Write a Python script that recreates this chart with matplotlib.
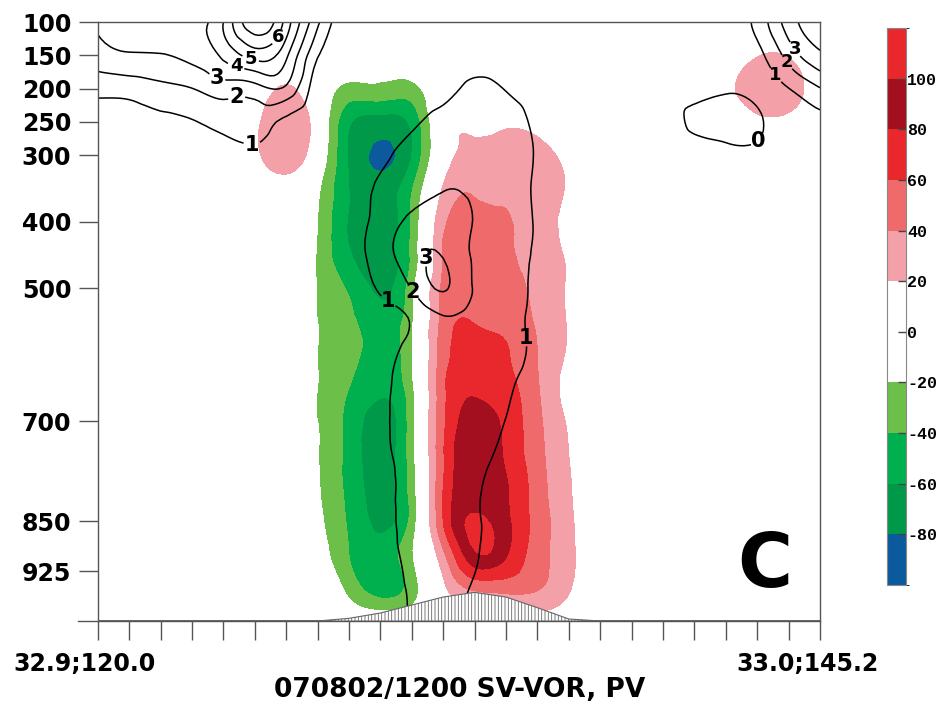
import numpy as np
import matplotlib
matplotlib.use("Agg")
import matplotlib.pyplot as plt
import matplotlib.tri as mtri
from matplotlib.colors import ListedColormap, BoundaryNorm
from matplotlib.cm import ScalarMappable
from matplotlib.transforms import ScaledTranslation

plt.rcParams['font.family'] = 'DejaVu Sans'
plt.rcParams['hatch.linewidth'] = 0.6

# cross-section grid: 24 points along ~33N, pressure levels every 50 hPa
lon = np.linspace(120.0, 145.2, 24)
lev = np.arange(100, 1001, 50)

# SV-VOR (shaded), rows = lev, cols = lon points
svvor = [
    [0, 0, 0, 0, 0, 0, 3, 0, 0, 0, 0, 0, 0, 0, 0, 0, 0, 0, 0, 0, 3, 8, 8, 3],
    [0, 0, 0, 0, 0, 2, 5, 0, -5, -10, -5, 0, 0, 0, 0, 0, 0, 0, 0, 2, 8, 19, 19, 6],
    [0, 0, 0, 0, 0, 8, 22, 0, -26, -25, -27, 0, 3, 5, 3, 0, 0, 0, 0, 5, 15, 30, 28, 10],
    [0, 0, 0, 0, 0, 15, 35, 5, -57, -69, -55, 5, 15, 17, 12, 3, 0, 0, 0, 2, 6, 15, 15, 5],
    [0, 0, 0, 0, 0, 15, 33, 0, -62, -83, -60, 5, 28, 33, 30, 12, 0, 0, 0, 0, 0, 3, 3, 0],
    [0, 0, 0, 0, 0, 5, 10, -16, -60, -72, -42, 22, 38, 38, 33, 17, 0, 0, 0, 0, 0, 0, 0, 0],
    [0, 0, 0, 0, 0, 0, 2, -20, -62, -70, -38, 35, 48, 42, 28, 15, 0, 0, 0, 0, 0, 0, 0, 0],
    [0, 0, 0, 0, 0, 0, 0, -22, -58, -66, -36, 42, 55, 44, 30, 17, 0, 0, 0, 0, 0, 0, 0, 0],
    [0, 0, 0, 0, 0, 0, 0, -21, -43, -64, -27, 45, 54, 50, 33, 18, 0, 0, 0, 0, 0, 0, 0, 0],
    [0, 0, 0, 0, 0, 0, 0, -20, -36, -50, -23, 47, 59, 55, 37, 18, 0, 0, 0, 0, 0, 0, 0, 0],
    [0, 0, 0, 0, 0, 0, 0, -20, -35, -48, -22, 50, 70, 62, 40, 17, 0, 0, 0, 0, 0, 0, 0, 0],
    [0, 0, 0, 0, 0, 0, 0, -20, -40, -55, -25, 55, 78, 68, 42, 12, 0, 0, 0, 0, 0, 0, 0, 0],
    [0, 0, 0, 0, 0, 0, 0, -20, -46, -70, -28, 56, 88, 75, 45, 17, 0, 0, 0, 0, 0, 0, 0, 0],
    [0, 0, 0, 0, 0, 0, 0, -19, -47, -70, -28, 58, 95, 77, 47, 20, 3, 0, 0, 0, 0, 0, 0, 0],
    [0, 0, 0, 0, 0, 0, 0, -18, -46, -68, -30, 60, 95, 82, 50, 22, 5, 0, 0, 0, 0, 0, 0, 0],
    [0, 0, 0, 0, 0, 0, 0, -15, -43, -65, -32, 60, 104, 85, 52, 24, 5, 0, 0, 0, 0, 0, 0, 0],
    [0, 0, 0, 0, 0, 0, 0, -10, -40, -55, -22, 35, 96, 82, 50, 25, 5, 0, 0, 0, 0, 0, 0, 0],
    [0, 0, 0, 0, 0, 0, 0, -3, -27, -50, -30, 15, 45, 48, 42, 22, 5, 0, 0, 0, 0, 0, 0, 0],
    [0, 0, 0, 0, 0, 0, 0, 0, 0, 0, 0, 0, 0, 8, 10, 8, 0, 0, 0, 0, 0, 0, 0, 0],
]

# PV (contours)
pv = [
    [3.05, 3.3, 3.45, 3.6, 5.0, 7.8, 5.6, 2.2, 0.2, 0.3, 0.4, 0.4, 0.4, 0.4, 0.4, 0.4, 0.4, 0.4, 0.4, 0.4, 0.5, 1.3, 3.5, 4.6],
    [2.6, 2.9, 2.95, 3.3, 4.2, 5.4, 4.2, 1.1, 0.3, 0.4, 0.4, 0.5, 0.6, 0.5, 0.4, 0.4, 0.4, 0.4, 0.3, 0.35, 0.4, 0.7, 2.4, 3.8],
    [1.3, 1.4, 1.7, 1.98, 2.5, 2.6, 2.8, 0.4, 0.4, 0.4, 0.5, 0.7, 1.2, 0.95, 0.6, 0.4, 0.4, 0.4, 0.2, 0.2, 0.1, 0.3, 0.98, 1.95],
    [0.6, 0.6, 0.8, 0.95, 1.3, 1.4, 0.8, 0.5, 0.5, 0.5, 0.8, 1.4, 1.6, 1.5, 0.8, 0.5, 0.4, 0.3, 0.2, -0.1, -0.25, -0.1, 0.4, 0.7],
    [0.4, 0.4, 0.5, 0.6, 0.7, 0.8, 0.55, 0.5, 0.5, 0.8, 1.4, 1.8, 1.8, 1.6, 0.9, 0.5, 0.4, 0.4, 0.3, 0.3, 0.2, 0.15, 0.3, 0.4],
    [0.4, 0.4, 0.4, 0.5, 0.5, 0.5, 0.5, 0.5, 0.4, 1.2, 1.6, 1.95, 1.9, 1.6, 0.85, 0.5, 0.5, 0.5, 0.4, 0.4, 0.4, 0.4, 0.4, 0.4],
    [0.5, 0.5, 0.5, 0.5, 0.5, 0.5, 0.5, 0.5, 0.5, 1.4, 2.25, 2.6, 1.95, 1.5, 0.9, 0.5, 0.5, 0.5, 0.5, 0.5, 0.5, 0.5, 0.5, 0.5],
    [0.5, 0.5, 0.5, 0.5, 0.5, 0.5, 0.5, 0.5, 0.6, 1.5, 2.6, 2.95, 1.85, 1.4, 0.85, 0.5, 0.5, 0.5, 0.5, 0.5, 0.5, 0.5, 0.5, 0.5],
    [0.5, 0.5, 0.5, 0.5, 0.5, 0.5, 0.5, 0.5, 0.6, 1.1, 2.05, 3.08, 1.9, 1.4, 0.8, 0.5, 0.5, 0.5, 0.5, 0.5, 0.5, 0.5, 0.5, 0.5],
    [0.5, 0.5, 0.5, 0.5, 0.5, 0.5, 0.5, 0.5, 0.5, 0.7, 1.05, 1.8, 1.6, 1.35, 0.75, 0.5, 0.5, 0.5, 0.5, 0.5, 0.5, 0.5, 0.5, 0.5],
    [0.5, 0.5, 0.5, 0.5, 0.5, 0.5, 0.5, 0.5, 0.5, 0.7, 1.3, 1.6, 1.5, 1.3, 0.8, 0.5, 0.5, 0.5, 0.5, 0.5, 0.5, 0.5, 0.5, 0.5],
    [0.5, 0.5, 0.5, 0.5, 0.5, 0.5, 0.5, 0.5, 0.5, 0.8, 1.35, 1.5, 1.4, 1.1, 0.7, 0.5, 0.5, 0.5, 0.5, 0.5, 0.5, 0.5, 0.5, 0.5],
    [0.5, 0.5, 0.5, 0.5, 0.5, 0.5, 0.5, 0.5, 0.5, 0.8, 1.4, 1.5, 1.35, 0.98, 0.6, 0.5, 0.5, 0.5, 0.5, 0.5, 0.5, 0.5, 0.5, 0.5],
    [0.5, 0.5, 0.5, 0.5, 0.5, 0.5, 0.5, 0.5, 0.5, 0.75, 1.35, 1.4, 1.25, 0.8, 0.6, 0.5, 0.5, 0.5, 0.5, 0.5, 0.5, 0.5, 0.5, 0.5],
    [0.5, 0.5, 0.5, 0.5, 0.5, 0.5, 0.5, 0.5, 0.5, 0.7, 1.3, 1.35, 1.1, 0.7, 0.6, 0.5, 0.5, 0.5, 0.5, 0.5, 0.5, 0.5, 0.5, 0.5],
    [0.5, 0.5, 0.5, 0.5, 0.5, 0.5, 0.5, 0.5, 0.5, 0.7, 1.25, 1.3, 1.08, 0.7, 0.6, 0.5, 0.5, 0.5, 0.5, 0.5, 0.5, 0.5, 0.5, 0.5],
    [0.5, 0.5, 0.5, 0.5, 0.5, 0.5, 0.5, 0.5, 0.5, 0.65, 1.2, 1.25, 1.05, 0.7, 0.6, 0.5, 0.5, 0.5, 0.5, 0.5, 0.5, 0.5, 0.5, 0.5],
    [0.5, 0.5, 0.5, 0.5, 0.5, 0.5, 0.5, 0.5, 0.5, 0.6, 1.1, 1.2, 0.95, 0.7, 0.6, 0.5, 0.5, 0.5, 0.5, 0.5, 0.5, 0.5, 0.5, 0.5],
    [0.5, 0.5, 0.5, 0.5, 0.5, 0.5, 0.5, 0.5, 0.5, 0.6, 1.05, 1.1, 0.9, 0.7, 0.6, 0.5, 0.5, 0.5, 0.5, 0.5, 0.5, 0.5, 0.5, 0.5],
]

# surface pressure (terrain)
psfc = [1000, 1000, 1000, 1000, 1000, 1000, 1000, 1000, 996, 988, 976, 964,
        957, 964, 980, 997, 1000, 1000, 1000, 1000, 1000, 1000, 1000, 1000]

vor_levels = [-100, -80, -60, -40, -20, 20, 40, 60, 80, 100, 120]
vor_colors = ['#0b5a9e', '#00994a', '#00b04f', '#6cbf48', '#ffffff',
              '#f4a0a8', '#ef6a6a', '#e8282d', '#a30f1f', '#e8282d']
cb_bounds = [-100, -80, -60, -40, -20, 0, 20, 40, 60, 80, 100, 120]
cb_colors = ['#0b5a9e', '#00994a', '#00b04f', '#6cbf48', '#ffffff', '#ffffff',
             '#f4a0a8', '#ef6a6a', '#e8282d', '#a30f1f', '#e8282d']
cb_ticks = [-80, -60, -40, -20, 0, 20, 40, 60, 80, 100]
pv_levels = [0, 1, 2, 3, 4, 5, 6, 7]
yticks = [100, 150, 200, 250, 300, 400, 500, 700, 850, 925]

# where the PV labels sit (the crowded ones near the top get a smaller font)
label_pos = [(125.38, 277), (124.86, 217), (124.20, 180), (124.83, 166),
             (125.39, 148), (126.22, 121), (129.95, 533), (131.18, 500),
             (131.25, 453), (134.81, 575), (142.94, 274), (143.32, 190),
             (143.95, 163), (144.55, 134)]
small_labels = [3, 4, 5, 11, 12, 13]

fig = plt.figure(figsize=(9.43, 7.2), dpi=100)
ax = fig.add_axes([0.1036, 0.1375, 0.766, 0.8319])

# smooth contouring like the original plotting package: triangulate the grid
# in index space and let matplotlib refine the fields (cubic)
ii, kk = np.meshgrid(np.arange(len(lon)), np.arange(len(lev)))
tri = mtri.Triangulation(ii.ravel().astype(float), kk.ravel().astype(float))
refiner = mtri.UniformTriRefiner(tri)
tri_f, vor_f = refiner.refine_field(np.array(svvor, float).ravel(), subdiv=3)
_, pv_f = refiner.refine_field(np.array(pv, float).ravel(), subdiv=3)
dlon = lon[1] - lon[0]
tri_plot = mtri.Triangulation(lon[0] + tri_f.x * dlon, lev[0] + tri_f.y * 50,
                              tri_f.triangles)

ax.tricontourf(tri_plot, vor_f, levels=vor_levels, colors=vor_colors)
cs = ax.tricontour(tri_plot, pv_f, levels=pv_levels, colors='black', linewidths=1.1)
ax.clabel(cs, fmt='%d', fontsize=15, inline=True, inline_spacing=2, manual=label_pos)
for n, t in enumerate(cs.labelTexts):
    t.set_fontweight('bold')
    t.set_rotation(0)
    if n in small_labels:
        t.set_fontsize(13)

ax.fill_between(lon, psfc, 1000, facecolor='white', edgecolor='#666666',
                hatch='|||||', linewidth=0.8, zorder=3)

ax.set_xlim(120, 145.2)
ax.set_ylim(1000, 100)
ax.set_yticks(yticks)
ax.set_yticklabels([str(v) for v in yticks], fontweight='bold')
ax.set_xticks(lon)
ax.set_xticklabels(['32.9;120.0'] + [''] * 22 + ['33.0;145.2'], fontweight='bold')
ax.tick_params(axis='both', direction='out', length=14, width=1, color='#555555',
               labelsize=17, pad=5)
ax.tick_params(axis='x', pad=8)
for s in ax.spines.values():
    s.set_color('#555555')
    s.set_linewidth(1.0)
ax.plot([-0.027, 0], [0, 0], transform=ax.transAxes, clip_on=False,
        color='#555555', lw=1)
off = ScaledTranslation(-0.13, 0, fig.dpi_scale_trans)
for lbl in ax.get_xticklabels():
    lbl.set_transform(lbl.get_transform() + off)

# colour bar
cax = fig.add_axes([0.9406, 0.1875, 0.0201, 0.7736])
sm = ScalarMappable(norm=BoundaryNorm(cb_bounds, len(cb_colors)),
                    cmap=ListedColormap(cb_colors))
cb = fig.colorbar(sm, cax=cax, ticks=cb_ticks)
cb.outline.set_edgecolor('#888888')
cb.ax.set_yticklabels([str(v) for v in cb_ticks], family='Liberation Mono',
                      fontweight='bold', fontsize=12)
cb.ax.tick_params(direction='in', length=6, width=1, color='#444444', pad=1)

fig.text(0.487, 1 - 690 / 720, '070802/1200 SV-VOR, PV', ha='center', va='center',
         fontsize=19, fontweight='bold')
fig.text(765 / 943, 1 - 567 / 720, 'C', ha='center', va='center',
         fontsize=54, fontweight='bold')

fig.savefig('out.png', dpi=100)
